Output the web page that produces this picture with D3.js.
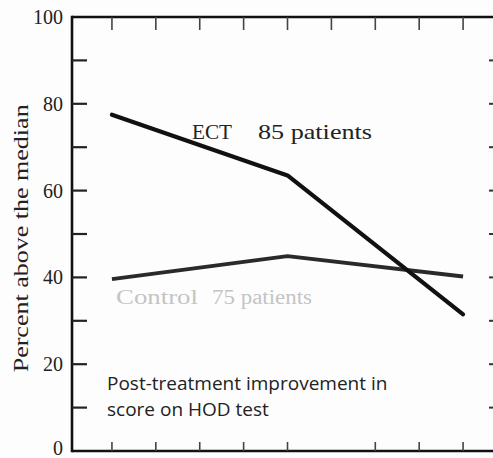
<!DOCTYPE html>
<html><head><meta charset="utf-8">
<script src="https://cdn.jsdelivr.net/npm/d3@7"></script>
<style>html,body{margin:0;padding:0;background:#fdfdfd;overflow:hidden}</style>
</head><body>
<script>
const xPositions = [0, 4, 8];
const ectValues = [77.5, 63.5, 31.5];
const controlValues = [39.6, 44.9, 40.2];
const yTickLabels = [0, 20, 40, 60, 80, 100];
const yMinorTicks = [10, 20, 30, 40, 50, 60, 70, 80, 90];
const xTopTicks = [0, 1, 2, 3, 4, 5, 6, 7, 8];
const xBottomTicks = [0, 1, 2, 3, 4, 6, 7, 8];
const ectName = "ECT";
const ectCount = "85 patients";
const controlName = "Control";
const controlCount = "75 patients";
const noteLines = ["Post-treatment improvement in", "score on HOD test"];
const yTitle = "Percent above the median";

const W = 493, H = 458;
const svg = d3.select("body").append("svg").attr("width", W).attr("height", H);
svg.append("rect").attr("width", W).attr("height", H).attr("fill", "#fdfdfd");

const x = d3.scaleLinear().domain([-0.91, 8.75]).range([72, 496]);
const y = d3.scaleLinear().domain([0, 100]).range([451, 17]);
const serif = "'Liberation Serif', 'DejaVu Serif', serif";
const sans = "'Open Sans', 'Noto Sans', sans-serif";

// frame
const g = svg.append("g");
g.append("line").attr("x1", x(-0.91)).attr("x2", x(-0.91)).attr("y1", y(100) - 1.3).attr("y2", y(0) + 1.3)
  .attr("stroke", "#111").attr("stroke-width", 2.6);
g.append("line").attr("x1", x(-0.91)).attr("x2", W + 5).attr("y1", y(100)).attr("y2", y(100))
  .attr("stroke", "#111").attr("stroke-width", 2.6);
g.append("line").attr("x1", x(-0.91)).attr("x2", W + 5).attr("y1", y(0)).attr("y2", y(0))
  .attr("stroke", "#111").attr("stroke-width", 2.6);

// left axis labels
const yAxis = d3.axisLeft(y).tickValues(yTickLabels).tickSize(0).tickPadding(9);
const ya = svg.append("g").attr("transform", `translate(${x(-0.91)},0)`).call(yAxis);
ya.attr("font-family", serif).attr("font-size", 20);
ya.select(".domain").remove();
ya.selectAll("text").style("font-family", serif).style("font-size", "20px").attr("fill", "#222")
  .attr("dy", d => d === 0 ? "0.15em" : "0.32em");

// inward minor ticks left
g.selectAll(".lt").data(yMinorTicks).join("line")
  .attr("x1", x(-0.91)).attr("x2", x(-0.91) + 15)
  .attr("y1", d => y(d)).attr("y2", d => y(d))
  .attr("stroke", "#222").attr("stroke-width", 2.2);
// right ticks
g.selectAll(".rt").data(yMinorTicks).join("line")
  .attr("x1", 489).attr("x2", W)
  .attr("y1", d => y(d)).attr("y2", d => y(d))
  .attr("stroke", "#333").attr("stroke-width", 2);
// top ticks
g.selectAll(".tt").data(xTopTicks).join("line")
  .attr("x1", d => x(d)).attr("x2", d => x(d))
  .attr("y1", y(100)).attr("y2", y(100) + 13)
  .attr("stroke", "#444").attr("stroke-width", 1.6);
// bottom ticks
g.selectAll(".bt").data(xBottomTicks).join("line")
  .attr("x1", d => x(d)).attr("x2", d => x(d))
  .attr("y1", y(0)).attr("y2", y(0) - 9)
  .attr("stroke", "#444").attr("stroke-width", 1.6);

// y title
svg.append("text").attr("transform", `translate(28,${y(49)}) rotate(-90)`)
  .attr("text-anchor", "middle").attr("font-family", serif).attr("font-size", 20)
  .attr("textLength", 268).attr("lengthAdjust", "spacingAndGlyphs")
  .attr("fill", "#222").text(yTitle);

// lines
const line = d3.line().x(d => x(d[0])).y(d => y(d[1]));
svg.append("path").datum(xPositions.map((p, i) => [p, controlValues[i]]))
  .attr("d", line).attr("fill", "none").attr("stroke", "#2a2a2a").attr("stroke-width", 4)
  .attr("stroke-linejoin", "round");
svg.append("path").datum(xPositions.map((p, i) => [p, ectValues[i]]))
  .attr("d", line).attr("fill", "none").attr("stroke", "#111").attr("stroke-width", 4.2)
  .attr("stroke-linejoin", "round").attr("stroke-linecap", "round");

// labels
svg.append("text").attr("x", 192).attr("y", 139).attr("font-family", serif).attr("font-size", 21)
  .attr("textLength", 40).attr("lengthAdjust", "spacingAndGlyphs").attr("fill", "#222").text(ectName);
svg.append("text").attr("x", 258).attr("y", 139).attr("font-family", serif).attr("font-size", 21)
  .attr("textLength", 114).attr("lengthAdjust", "spacingAndGlyphs").attr("fill", "#222").text(ectCount);
svg.append("text").attr("x", 116).attr("y", 304).attr("font-family", serif).attr("font-size", 20)
  .attr("textLength", 82).attr("lengthAdjust", "spacingAndGlyphs").attr("fill", "#c4c4c4").text(controlName);
svg.append("text").attr("x", 212).attr("y", 304).attr("font-family", serif).attr("font-size", 20)
  .attr("textLength", 100).attr("lengthAdjust", "spacingAndGlyphs").attr("fill", "#c4c4c4").text(controlCount);

svg.selectAll(".note").data(noteLines).join("text")
  .attr("x", 107).attr("y", (d, i) => 390 + i * 26)
  .attr("font-family", sans).attr("font-size", 19)
  .attr("fill", "#222").text(d => d);
</script>
</body></html>
